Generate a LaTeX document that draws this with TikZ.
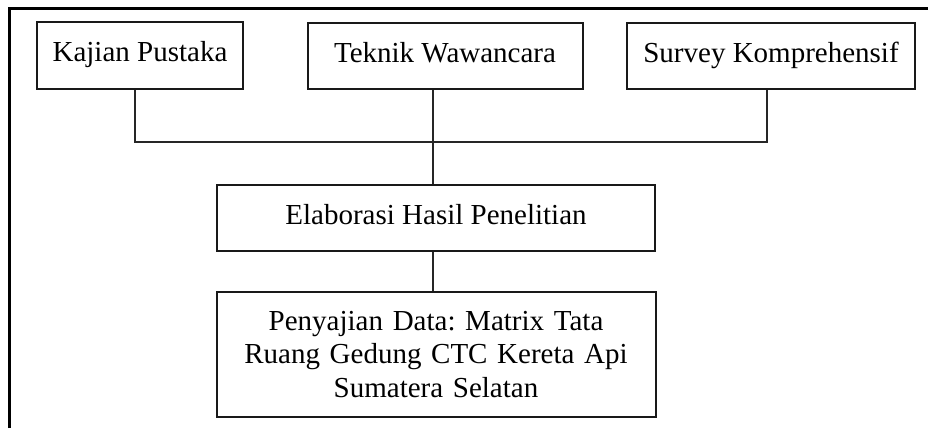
\documentclass[tikz,border=0pt]{standalone}
\usepackage{fontspec}
\setmainfont{Liberation Serif}
\begin{document}
\frenchspacing
\begin{tikzpicture}[x=1pt,y=-1pt,
  box/.style={draw=black!90,line width=2pt,inner sep=0pt,align=center,font=\fontsize{29}{33.5}\selectfont},
  onebox/.style={box,text height=20pt,text depth=7pt,minimum height=66pt},
  conn/.style={draw=black!85,line width=2pt}]
\useasboundingbox (0,0) rectangle (928,428);
\draw[line width=3pt] (9.3,428) -- (9.3,9) -- (928,9);
\node[onebox,minimum width=206pt] (kp) at (140,55.5) {Kajian Pustaka};
\node[onebox,minimum width=275pt] (tw) at (445,56) {Teknik Wawancara};
\node[onebox,minimum width=288pt] (sk) at (771,56) {Survey Komprehensif};
\node[onebox,minimum width=438pt] (eh) at (436,218) {Elaborasi Hasil Penelitian};
\node[box,minimum width=439pt,minimum height=125.6pt,text width=430pt] (pd) at (436,354.5) {Penyajian Data: Matrix Tata\\Ruang Gedung CTC Kereta Api\\Sumatera Selatan};
\coordinate (bl) at (135.3,141.7);
\coordinate (br) at (766.7,141.7);
\coordinate (bus) at (432.5,141.7);
\draw[conn] (kp.south -| bl) -- (bl) -- (br) -- (sk.south -| br);
\draw[conn] (tw.south -| bus) -- (eh.north -| bus);
\draw[conn] (eh.south -| bus) -- (pd.north -| bus);
\end{tikzpicture}
\end{document}
